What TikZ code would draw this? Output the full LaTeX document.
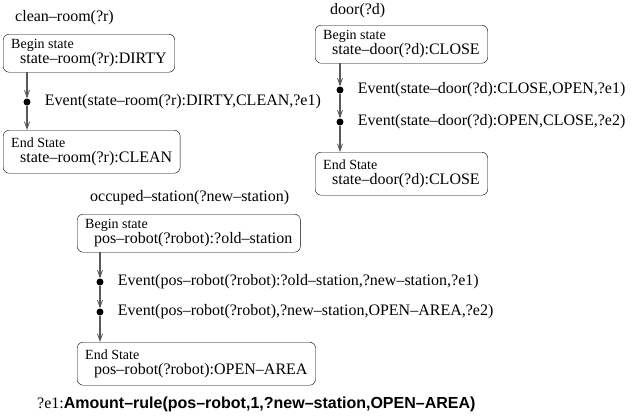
\documentclass[tikz,border=0pt]{standalone}
\usepackage{fontspec}
\setmainfont{Liberation Serif}
\newfontfamily\rulefont[Ligatures=TeX]{Liberation Sans}
\usetikzlibrary{positioning,arrows.meta}

\begin{document}
\begin{tikzpicture}[
  x=1pt, y=-1pt,
  font=\fontsize{16}{15}\selectfont,
  node distance=4mm and 14pt,
  statebox/.style={draw, rounded corners=6pt, align=left, anchor=north west,
                   inner xsep=8pt, inner ysep=4pt, minimum height=38pt},
  endbox/.style={statebox, minimum height=43pt},
  caption/.style={anchor=base west, inner sep=0pt},
  eventdot/.style={circle, fill=black, inner sep=0pt, minimum size=7pt},
  eventlabel/.style={anchor=west, inner sep=0pt},
  flow/.style={-{Straight Barb[length=7pt,width=5pt,line width=0.8pt]}, draw=black!65, line width=1.2pt},
]
\useasboundingbox (0,0) rectangle (633,418);
\newcommand{\boxhead}[1]{{\fontsize{14}{15}\selectfont #1}\\\hspace*{9pt}}

% clean-room
\node[caption] (roomtitle) at (15,21) {clean--room(?r)};
\node[statebox] (roombegin) at (3,34) {\boxhead{Begin state}state--room(?r):DIRTY};
\node[endbox] (roomend) at (3,130) {\boxhead{End State}state--room(?r):CLEAN};
\node[eventdot] (roomdot) at (27,102) {};
\node[eventlabel, right=of roomdot] (roomev) {Event(state--room(?r):DIRTY,CLEAN,?e1)};
\draw[flow] (roomdot |- roombegin.south) -- (roomdot);
\draw[flow] (roomdot) -- (roomdot |- roomend.north);

% door
\node[caption] (doortitle) at (330,14) {door(?d)};
\node[statebox] (doorbegin) at (315,25) {\boxhead{Begin state}state--door(?d):CLOSE};
\node[endbox] (doorend) at (315,152) {\boxhead{End State}state--door(?d):CLOSE};
\node[eventdot] (doordota) at (340,90) {};
\node[eventdot] (doordotb) at (340,122) {};
\node[eventlabel, right=of doordota] (doorev1) {Event(state--door(?d):CLOSE,OPEN,?e1)};
\node[eventlabel, right=of doordotb] (doorev2) {Event(state--door(?d):OPEN,CLOSE,?e2)};
\draw[flow] (doordota |- doorbegin.south) -- (doordota);
\draw[flow] (doordota) -- (doordotb);
\draw[flow] (doordotb) -- (doordotb |- doorend.north);

% occuped-station
\node[caption] (robottitle) at (90,201) {occuped--station(?new--station)};
\node[statebox] (robotbegin) at (77,214) {\boxhead{Begin state}pos--robot(?robot):?old--station};
\node[endbox] (robotend) at (77,342) {\boxhead{End State}pos--robot(?robot):OPEN--AREA};
\node[eventdot] (robotdota) at (100,282) {};
\node[eventdot] (robotdotb) at (100,312) {};
\node[eventlabel, right=of robotdota] (robotev1) {Event(pos--robot(?robot):?old--station,?new--station,?e1)};
\node[eventlabel, right=of robotdotb] (robotev2) {Event(pos--robot(?robot),?new--station,OPEN--AREA,?e2)};
\draw[flow] (robotdota |- robotbegin.south) -- (robotdota);
\draw[flow] (robotdota) -- (robotdotb);
\draw[flow] (robotdotb) -- (robotdotb |- robotend.north);

% rule
\node[caption] (rule) at (37,408) {?e1:{\rulefont\bfseries Amount--rule(pos--robot,1,?new--station,OPEN--AREA)}};
\end{tikzpicture}
\end{document}
